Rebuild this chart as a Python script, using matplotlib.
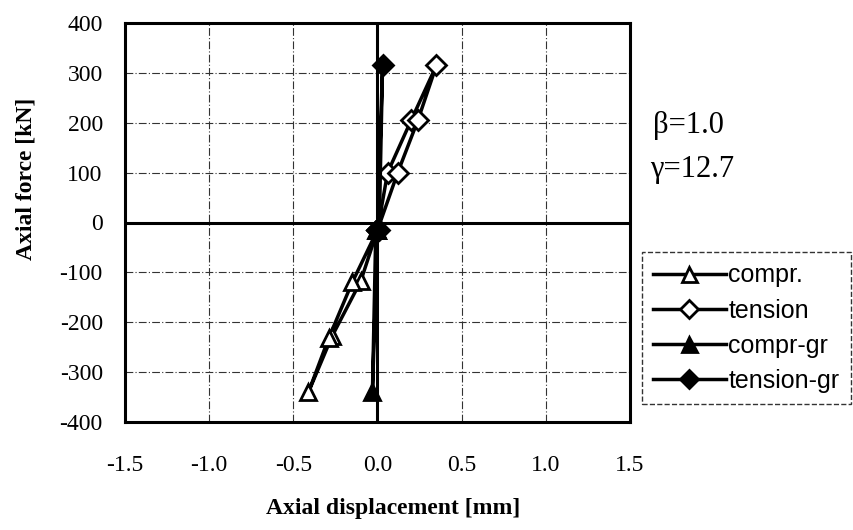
import matplotlib.pyplot as plt

# data (displacement mm, force kN)
compr_x = [0.0, -0.10, -0.27, -0.41, -0.29, -0.15, 0.0]
compr_y = [-15, -118, -228, -340, -232, -120, -15]
tension_x = [0.0, 0.06, 0.20, 0.35, 0.24, 0.12, 0.0]
tension_y = [-15, 100, 205, 315, 205, 100, -15]
comprgr_x = [0.0, -0.03, -0.01]
comprgr_y = [-15, -340, -15]
tensiongr_x = [0.0, 0.03, 0.01]
tensiongr_y = [-15, 315, -15]

xticks = [-1.5, -1.0, -0.5, 0.0, 0.5, 1.0, 1.5]
yticks = [-400, -300, -200, -100, 0, 100, 200, 300, 400]

fig = plt.figure(figsize=(8.54, 5.30), dpi=100)
ax = fig.add_axes([125 / 854, 1 - 422 / 530, 505 / 854, 399 / 530])

serif = 'Liberation Serif'
sans = 'Liberation Sans'

ax.set_xlim(-1.5, 1.5)
ax.set_ylim(-400, 400)
ax.set_xticks(xticks)
ax.set_yticks(yticks)
ax.set_xticklabels(['%.1f' % v for v in xticks], family=serif, fontsize=17)
ax.set_yticklabels([str(v) for v in yticks], family=serif, fontsize=17)
ax.tick_params(length=0)
ax.tick_params(axis='x', pad=24)
ax.tick_params(axis='y', pad=16)

ax.grid(True, color='#333333', lw=0.8, linestyle=(0, (7, 2, 1, 2)))
for s in ax.spines.values():
    s.set_linewidth(2.2)
ax.axhline(0, color='black', lw=2.2, zorder=2)
ax.axvline(0, color='black', lw=2.2, zorder=2)

mk = dict(color='black', lw=2.5, markersize=12, markeredgewidth=2, zorder=4)
ax.plot(compr_x, compr_y, marker='^', markerfacecolor='white', label='compr.', **mk)
ax.plot(tension_x, tension_y, marker='D', markerfacecolor='white', label='tension',
        **dict(mk, markersize=10))
ax.plot(comprgr_x, comprgr_y, marker='^', markerfacecolor='black', label='compr-gr', **mk)
ax.plot(tensiongr_x, tensiongr_y, marker='D', markerfacecolor='black', label='tension-gr',
        **dict(mk, markersize=10))

ax.set_xlabel('Axial displacement [mm]', family=serif, fontweight='bold', fontsize=17)
ax.xaxis.set_label_coords(0.53, -0.19)
ax.set_ylabel('Axial force [kN]', family=serif, fontweight='bold', fontsize=17)
ax.yaxis.set_label_coords(-0.175, 0.61)

fig.text(653 / 854, 1 - 125 / 530, '\u03b2=1.0', family=serif, fontsize=22, va='center')
fig.text(650 / 854, 1 - 170 / 530, '\u03b3=12.7', family=serif, fontsize=22, va='center')

leg = fig.legend(loc='upper left', bbox_to_anchor=(642 / 854, 1 - 252 / 530),
                 prop={'family': sans, 'size': 18}, handlelength=2.9,
                 handletextpad=0.1, labelspacing=0.45, borderpad=0.45,
                 fancybox=False, frameon=True, borderaxespad=0, markerscale=0.9)
fr = leg.get_frame()
fr.set_edgecolor('black')
fr.set_linestyle('--')
fr.set_linewidth(1.0)

fig.savefig('out.png', dpi=100)
